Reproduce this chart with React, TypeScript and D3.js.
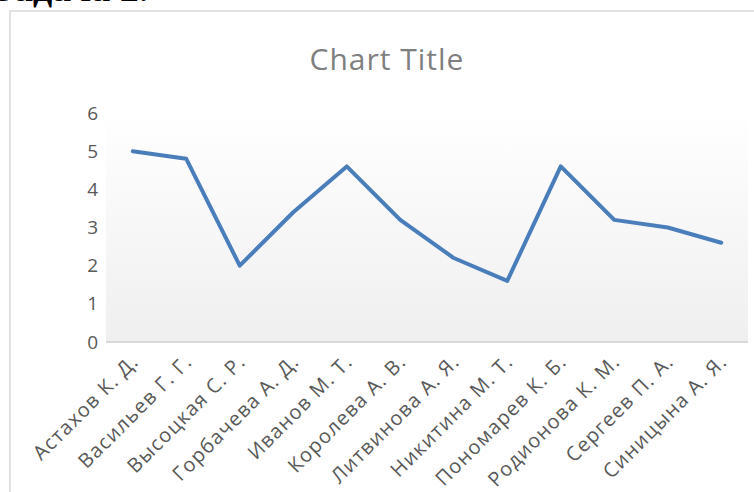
import React, { useEffect, useRef } from "react";
import * as d3 from "d3";

const students = [
  "Астахов К. Д.",
  "Васильев Г. Г.",
  "Высоцкая С. Р.",
  "Горбачева А. Д.",
  "Иванов М. Т.",
  "Королева А. В.",
  "Литвинова А. Я.",
  "Никитина М. Т.",
  "Пономарев К. Б.",
  "Родионова К. М.",
  "Сергеев П. А.",
  "Синицына А. Я.",
];
const scores = [5, 4.8, 2, 3.4, 4.6, 3.2, 2.2, 1.6, 4.6, 3.2, 3.0, 2.6];
const yTicks = [0, 1, 2, 3, 4, 5, 6];

const W = 754, H = 492;
const FONT = "'Open Sans', 'DejaVu Sans', sans-serif";

export default function App() {
  const ref = useRef<SVGSVGElement>(null);

  useEffect(() => {
    const svg = d3.select(ref.current);
    svg.selectAll("*").remove();

    const plot = { left: 106, right: 748, top: 113, bottom: 342 };

    const x = d3.scaleBand().domain(students).range([plot.left, plot.right]);
    const y = d3.scaleLinear().domain([0, 6]).range([plot.bottom, plot.top]);

    // heading above the chart, mostly cut off by the crop
    svg.append("text")
      .attr("x", -6)
      .attr("y", 1)
      .style("font-family", "'Liberation Serif', serif")
      .style("font-weight", "bold")
      .style("font-size", 38)
      .text("Задача 2.");

    // chart frame
    svg.append("rect")
      .attr("x", 10)
      .attr("y", 11)
      .attr("width", 800)
      .attr("height", 600)
      .attr("fill", "white")
      .attr("stroke", "#d9d9d9")
      .attr("stroke-width", 1.5);

    const defs = svg.append("defs");
    const grad = defs.append("linearGradient")
      .attr("id", "plotbg")
      .attr("x1", 0).attr("y1", 0).attr("x2", 0).attr("y2", 1);
    grad.append("stop").attr("offset", "0%").attr("stop-color", "#ffffff");
    grad.append("stop").attr("offset", "100%").attr("stop-color", "#efefef");

    svg.append("rect")
      .attr("x", plot.left)
      .attr("y", y(6))
      .attr("width", plot.right - plot.left)
      .attr("height", y(0) - y(6))
      .attr("fill", "url(#plotbg)");

    svg.append("text")
      .attr("x", 387)
      .attr("y", 70)
      .attr("text-anchor", "middle")
      .style("font-family", FONT)
      .style("font-size", 30)
      .style("letter-spacing", "1px")
      .style("fill", "#7f7f7f")
      .text("Chart Title");

    // y labels
    svg.append("g")
      .selectAll("text")
      .data(yTicks)
      .enter()
      .append("text")
      .attr("x", 98)
      .attr("y", d => y(d))
      .attr("dy", "0.35em")
      .attr("text-anchor", "end")
      .style("font-family", FONT)
      .style("font-size", 19)
      .style("fill", "#595959")
      .text(d => d);

    // axis line
    svg.append("line")
      .attr("x1", plot.left)
      .attr("x2", plot.right)
      .attr("y1", y(0))
      .attr("y2", y(0))
      .attr("stroke", "#d9d9d9")
      .attr("stroke-width", 2);

    // x labels
    svg.append("g")
      .selectAll("text")
      .data(students)
      .enter()
      .append("text")
      .attr("transform", d => "translate(" + [x(d)! + x.bandwidth() / 2 + 2, y(0) + 16] + ") rotate(-45)")
      .attr("text-anchor", "end")
      .attr("dy", "0.35em")
      .style("font-family", FONT)
      .style("font-size", 20)
      .style("letter-spacing", "1.2px")
      .style("fill", "#595959")
      .text(d => d);

    const line = d3.line<number>()
      .x((d, i) => x(students[i])! + x.bandwidth() / 2)
      .y(d => y(d));

    svg.append("path")
      .datum(scores)
      .attr("d", line)
      .attr("fill", "none")
      .attr("stroke", "#4a7ebb")
      .attr("stroke-width", 4)
      .attr("stroke-linejoin", "round")
      .attr("stroke-linecap", "round");
  }, []);

  return (
    <svg
      ref={ref}
      width={W}
      height={H}
      style={{ position: "absolute", left: 0, top: 0, background: "white" }}
    />
  );
}
